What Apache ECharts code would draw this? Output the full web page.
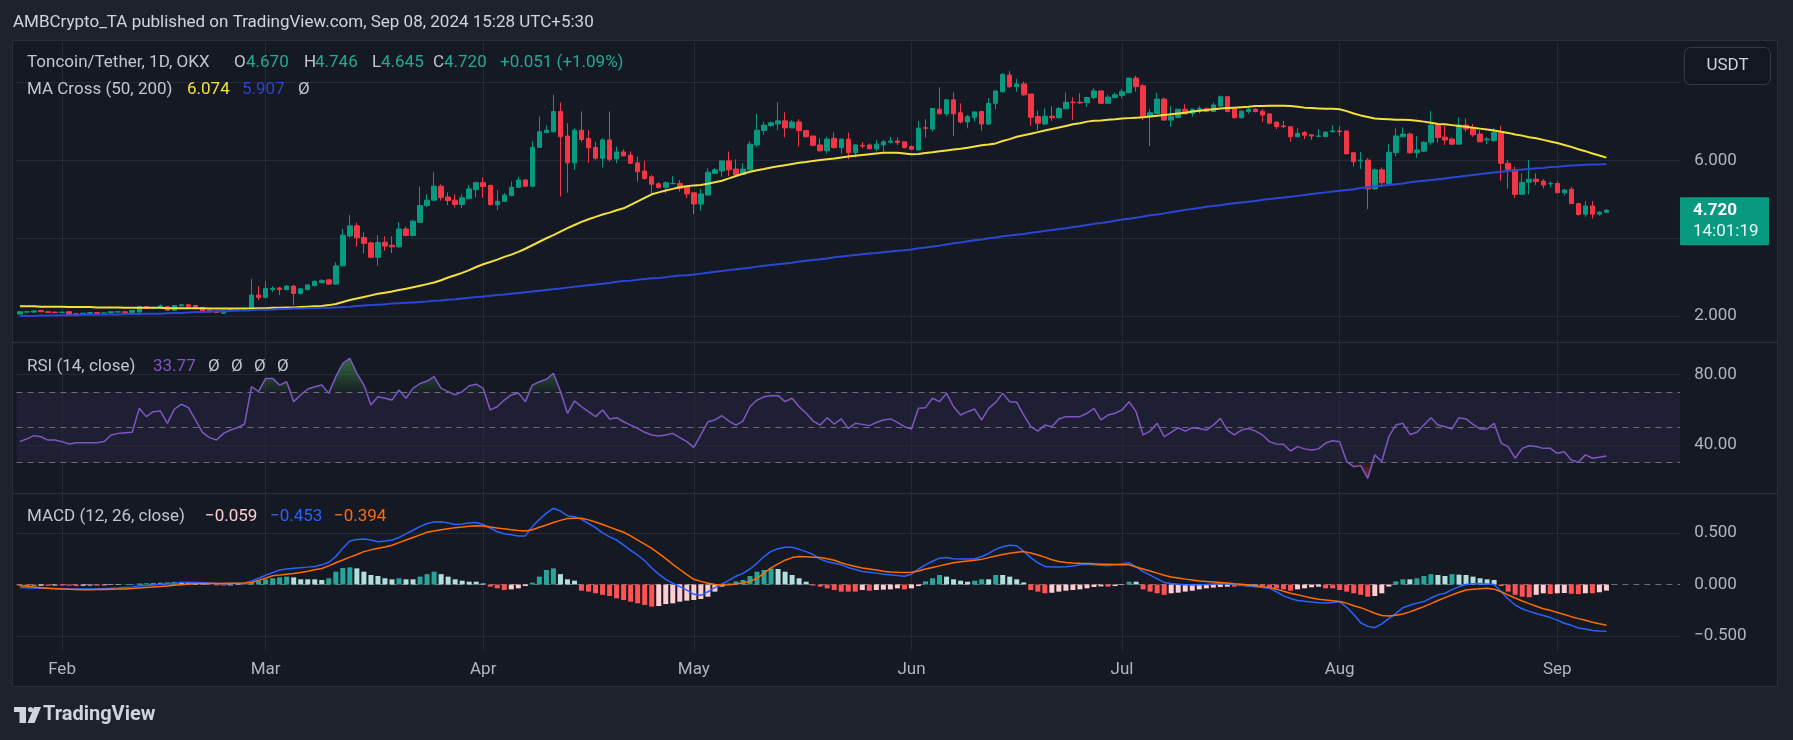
<!DOCTYPE html>
<html>
<head>
<meta charset="utf-8">
<title>Toncoin/Tether 1D OKX</title>
<script src="https://cdn.jsdelivr.net/npm/echarts@6.0.0/dist/echarts.min.js"></script>
<style>
html,body{margin:0;padding:0;background:#1e222d;overflow:hidden}
#chart{width:1793px;height:740px}
</style>
</head>
<body>
<div id="chart"></div>
<script>
// ================= DATA =================
const startDay = [2024, 0, 26];      // first candle: 26 Jan 2024
const slotCount = 237;               // daily slots on the time axis (incl. empty right margin)
const monthTicks = ['Feb','Mar','Apr','May','Jun','Jul','Aug','Sep'];
const priceTicks = [2, 4, 6, 8];
const priceTickLabels = [2, 6];
const rsiTicks = [80, 40];
const rsiLevels = [70, 50, 30];
const macdTicks = [0.5, -0.5];
const countdown = '14:01:19';

const opens = [
2.05,2.10,2.10,2.14,2.11,2.10,2.09,2.11,2.06,2.05,2.07,2.09,2.07,2.08,2.10,2.11,2.09,2.10,2.24,2.20,
2.22,2.24,2.15,2.26,2.29,2.27,2.22,2.15,2.13,2.07,2.15,2.17,2.17,
2.17,2.54,2.48,2.68,2.72,2.68,2.77,2.58,2.68,2.78,2.86,2.93,2.82,3.29,4.06,4.32,4.02,3.88,3.51,3.90,
3.82,3.78,4.24,4.07,4.41,4.84,4.98,5.34,5.06,4.98,4.87,5.02,5.25,5.43,5.36,4.86,4.95,5.10,5.31,
5.50,5.34,6.34,6.72,6.74,7.26,6.63,5.94,6.78,6.57,6.34,6.06,6.53,6.04,6.22,6.14,5.94,5.73,5.58,5.40,
5.31,5.40,5.41,5.33,5.17,4.88,5.11,5.67,5.73,5.99,5.78,5.64,5.76,6.40,6.77,6.90,6.94,7.02,6.84,6.99,
6.77,6.63,6.40,6.25,6.57,6.33,6.55,6.20,6.39,6.40,6.30,6.40,6.47,6.50,6.48,6.36,6.27,6.84,6.81,7.32,
7.20,7.56,7.23,6.99,7.11,7.26,6.94,7.47,7.77,8.20,7.90,7.97,7.71,7.13,
6.94,7.14,7.10,7.33,7.50,7.50,7.49,7.62,7.79,7.47,7.62,7.67,7.74,8.12,7.92,7.13,7.21,7.58,7.04,7.11,
7.32,7.21,7.32,7.34,7.26,7.40,7.64,7.32,7.10,7.26,7.32,7.27,7.20,6.99,6.89,6.87,6.61,6.72,6.66,6.62,
6.61,6.74,6.76,6.76,6.20,5.99,6.01,5.27,5.76,5.41,6.20,6.61,6.68,6.20,6.24,6.47,6.91,
6.60,6.55,6.42,6.91,6.84,6.68,6.53,6.51,6.72,5.93,5.77,5.13,5.44,5.52,5.47,5.40,5.41,5.17,5.26,4.89,
4.62,4.83,4.62,4.670];
const highs = [
2.12,2.13,2.14,2.15,2.13,2.11,2.11,2.12,2.07,2.08,2.10,2.10,2.09,2.12,2.12,2.12,2.15,2.26,2.26,2.24,
2.30,2.25,2.28,2.31,2.30,2.29,2.23,2.16,2.14,2.16,2.18,2.19,2.20,
2.95,2.77,2.90,2.77,2.75,2.80,2.80,2.72,2.82,2.92,2.95,2.95,3.38,4.24,4.60,4.40,4.15,3.92,4.08,4.05,
4.05,4.42,4.30,4.47,5.33,5.13,5.70,5.39,5.18,5.13,5.13,5.37,5.46,5.57,5.38,5.24,5.16,5.46,5.58,
5.52,6.50,7.13,6.90,7.69,7.49,6.96,6.83,7.26,6.78,6.48,6.57,7.26,6.36,6.29,6.23,6.10,5.99,5.63,5.44,
5.47,5.60,5.50,5.34,5.17,5.28,5.80,5.80,5.99,6.23,6.03,5.93,6.50,7.20,7.00,7.00,7.50,7.24,7.04,7.06,
6.78,6.63,6.57,6.61,6.72,6.57,6.72,6.42,6.48,6.44,6.53,6.53,6.61,6.59,6.48,6.39,7.02,7.06,7.34,7.88,
7.57,7.75,7.47,7.17,7.25,7.28,7.60,7.79,8.24,8.30,8.10,8.03,7.71,7.28,
7.34,7.40,7.38,7.75,7.63,7.73,7.64,7.86,7.80,7.69,7.75,7.84,8.13,8.18,7.97,7.32,7.74,7.62,7.40,7.33,
7.45,7.33,7.40,7.36,7.49,7.67,7.66,7.37,7.29,7.38,7.35,7.32,7.21,6.99,7.02,6.87,6.83,6.76,6.67,6.81,
6.75,6.91,6.89,6.77,6.22,6.22,6.06,5.80,5.82,6.42,6.83,6.85,6.72,6.63,6.49,7.27,6.92,
6.89,6.59,7.11,7.08,6.94,6.78,6.61,6.83,6.89,6.01,5.84,5.67,6.01,5.67,5.52,5.46,5.46,5.27,5.32,4.91,
4.96,4.96,4.70,4.746];
const lows = [
2.03,2.08,2.09,2.10,2.08,2.08,2.08,2.03,2.03,2.04,2.06,2.06,2.06,2.07,2.09,2.08,2.08,2.09,2.18,2.19,
2.21,2.14,2.14,2.25,2.23,2.21,2.10,2.10,2.08,2.06,2.14,2.15,2.16,
2.13,2.41,2.45,2.62,2.54,2.66,2.28,2.55,2.66,2.76,2.84,2.80,2.80,3.27,4.02,3.78,3.61,3.49,3.29,3.68,
3.62,3.75,4.05,4.05,4.40,4.80,4.95,4.97,4.85,4.79,4.78,5.00,5.05,5.04,4.85,4.72,4.93,5.08,5.30,
5.32,5.33,6.32,6.70,6.72,5.07,5.17,5.76,6.48,5.94,6.01,5.82,5.97,5.93,6.10,5.93,5.46,5.50,5.16,5.28,
5.16,5.40,5.20,5.03,4.62,4.71,5.11,5.67,5.58,5.60,5.63,5.63,5.76,6.34,6.66,6.87,6.78,6.60,6.83,6.36,
6.60,6.37,6.23,6.18,6.31,6.17,6.03,6.08,6.31,6.29,6.24,6.23,6.44,6.40,6.31,6.27,6.27,6.59,6.74,7.20,
7.14,6.63,6.96,6.83,7.00,6.77,6.91,7.32,7.74,7.86,7.77,7.66,6.89,6.78,
6.91,7.02,7.08,7.32,7.04,7.45,7.38,7.57,7.45,7.46,7.60,7.60,7.73,7.77,7.04,6.37,7.20,7.03,6.87,7.09,
7.19,7.13,7.21,7.24,7.24,7.38,7.24,7.08,7.08,7.20,7.24,6.99,6.93,6.81,6.83,6.48,6.60,6.55,6.53,6.61,
6.60,6.72,6.63,6.17,5.84,5.78,4.75,5.26,5.34,5.40,6.10,6.60,6.17,6.07,6.22,6.40,6.46,
6.40,6.40,6.42,6.74,6.61,6.48,6.42,6.48,5.48,5.27,5.03,5.13,5.13,5.37,5.28,5.31,5.17,5.10,4.88,4.58,
4.55,4.51,4.58,4.645];
const closes = [
2.11,2.11,2.13,2.11,2.09,2.09,2.10,2.04,2.04,2.07,2.09,2.07,2.08,2.11,2.11,2.09,2.14,2.24,2.20,2.22,
2.26,2.15,2.27,2.29,2.24,2.22,2.11,2.11,2.09,2.15,2.17,2.18,2.19,
2.54,2.48,2.71,2.71,2.68,2.77,2.58,2.70,2.80,2.89,2.91,2.82,3.29,4.08,4.32,4.01,3.87,3.51,3.89,3.80,
3.78,4.24,4.07,4.44,4.84,4.98,5.34,5.05,4.97,4.87,5.04,5.27,5.43,5.33,4.86,4.95,5.11,5.31,5.50,
5.34,6.34,6.74,6.78,7.26,6.61,5.94,6.78,6.54,6.33,6.06,6.53,6.03,6.22,6.12,5.93,5.71,5.54,5.39,5.31,
5.43,5.41,5.28,5.14,4.88,5.14,5.70,5.76,5.99,5.76,5.63,5.78,6.42,6.78,6.91,6.97,7.02,6.84,6.99,6.77,
6.61,6.39,6.25,6.55,6.33,6.55,6.20,6.40,6.37,6.30,6.42,6.48,6.50,6.46,6.33,6.29,6.83,6.83,7.34,7.20,
7.56,7.20,6.99,7.13,7.25,6.94,7.47,7.79,8.22,7.90,7.97,7.69,7.11,6.96,
7.14,7.10,7.34,7.50,7.49,7.48,7.62,7.79,7.47,7.63,7.69,7.77,8.12,7.90,7.11,7.23,7.58,7.04,7.14,7.32,
7.20,7.32,7.34,7.26,7.43,7.64,7.26,7.10,7.27,7.32,7.26,7.17,6.96,6.87,6.87,6.61,6.70,6.65,6.63,6.63,
6.73,6.76,6.74,6.17,5.97,6.01,5.27,5.76,5.43,6.21,6.63,6.68,6.20,6.27,6.47,6.91,6.59,
6.53,6.42,6.91,6.81,6.66,6.48,6.55,6.72,5.93,5.77,5.13,5.44,5.52,5.46,5.37,5.41,5.17,5.24,4.89,4.61,
4.83,4.62,4.669,4.720];

const ma50 = [
2.25,2.25,2.25,2.24,2.24,2.24,2.24,2.23,2.23,2.23,2.23,
2.22,2.22,2.22,2.22,2.21,2.21,2.21,2.21,2.21,2.21,
2.20,2.20,2.20,2.20,2.20,2.20,2.19,2.19,2.19,2.19,2.19,2.19,
2.19,2.20,2.20,2.21,2.21,2.22,2.22,2.23,2.24,2.25,2.26,2.28,2.31,2.36,2.41,
2.45,2.49,2.53,2.57,2.60,2.63,2.67,2.70,2.74,2.78,2.82,2.86,
2.92,2.99,3.05,3.11,3.18,3.26,3.33,3.39,3.45,3.52,3.58,3.65,
3.73,3.82,3.91,4.00,4.08,4.17,4.26,4.34,4.42,4.49,
4.55,4.61,4.66,4.72,4.77,4.86,4.95,5.04,5.13,
5.18,5.23,5.27,5.31,5.34,5.36,5.37,5.40,5.44,5.48,
5.54,5.60,5.66,5.71,5.75,5.78,5.82,5.85,5.88,
5.91,5.94,5.96,5.99,6.01,6.03,6.05,6.08,6.10,6.12,
6.14,6.16,6.18,6.20,6.20,6.20,6.18,6.16,6.17,6.19,6.21,6.24,
6.26,6.28,6.30,6.33,6.36,6.39,6.41,6.44,6.50,6.55,6.61,6.65,6.69,6.73,
6.77,6.81,6.85,6.89,6.93,6.96,7.00,7.02,7.03,7.05,7.06,7.08,7.09,7.10,7.11,
7.13,7.15,7.17,7.19,7.21,7.23,7.26,7.28,7.30,7.32,7.34,7.35,7.36,7.37,7.38,7.40,
7.40,7.41,7.41,7.41,7.40,7.38,7.36,7.35,7.34,7.33,7.33,7.32,
7.27,7.21,7.16,7.12,7.08,7.07,7.06,7.05,7.05,7.04,7.02,7.00,6.97,6.94,
6.93,6.91,6.89,6.87,6.84,6.82,6.80,6.77,6.74,6.71,6.67,6.64,6.60,
6.57,6.53,6.49,6.45,6.40,6.35,6.29,6.24,6.18,6.13,6.074];
const ma200 = [
2.00,2.00,2.00,2.01,2.01,2.01,2.02,2.02,2.02,2.03,2.03,2.03,2.04,2.04,2.04,2.05,2.05,2.05,2.06,2.06,2.06,2.07,
2.08,2.08,2.09,2.10,2.10,2.11,2.12,2.12,2.13,2.14,2.14,2.15,2.16,2.16,2.17,2.18,2.18,2.19,2.19,2.20,2.20,2.21,2.21,2.22,
2.23,2.24,2.26,2.27,2.28,2.29,2.30,2.32,2.33,2.34,2.35,2.36,2.37,2.39,2.40,
2.42,2.43,2.45,2.47,2.49,2.50,2.52,2.54,2.55,2.57,2.59,
2.61,2.63,2.65,2.67,2.69,2.71,2.73,2.75,2.77,2.79,2.81,2.83,2.85,2.88,
2.90,2.91,2.93,2.95,2.97,2.98,3.00,3.02,3.04,3.05,3.07,
3.09,3.11,3.14,3.16,3.18,3.20,3.22,3.24,3.27,3.29,3.31,3.33,3.35,
3.37,3.40,3.42,3.44,3.46,3.48,3.51,3.53,3.55,3.57,
3.59,3.61,3.62,3.64,3.66,3.68,3.69,3.71,
3.74,3.76,3.79,3.81,3.84,3.87,3.89,3.92,3.95,3.97,4.00,
4.02,4.05,4.07,4.09,4.11,4.14,4.16,
4.19,4.21,4.24,4.26,4.29,4.31,4.34,
4.37,4.39,4.42,4.45,4.48,4.50,4.53,4.56,
4.59,4.61,4.64,4.67,4.70,4.73,4.75,4.78,4.81,
4.83,4.85,4.88,4.90,4.92,4.94,4.96,4.99,5.01,5.03,
5.05,5.07,5.09,5.11,5.14,5.16,5.18,5.20,5.22,
5.24,5.26,5.29,5.31,5.33,5.35,5.37,
5.39,5.41,5.44,5.46,5.48,5.50,5.52,
5.54,5.56,5.58,5.61,5.63,5.65,5.67,5.69,5.71,
5.73,5.75,5.77,5.78,5.80,
5.81,5.83,5.84,5.86,5.87,
5.88,5.89,5.90,5.90,5.907];

const rsi = [
42,43.5,45.3,44.7,42.8,42.8,41.9,40.6,41.3,41.3,41.3,41.3,42,45.7,46.6,47.0,47.2,
60.8,56.1,58.9,59.3,52.3,60.4,63.1,61.2,54.2,47.2,44.2,42.8,46.6,48.5,49.8,51.9,
73.1,70.3,77.8,77.8,74.0,75.9,64.6,68.4,71.8,73.0,74.0,69.3,78.8,86.3,89.2,
80.7,74.0,62.7,67.4,66.5,65.5,71.2,66.5,72.1,74.9,76.3,78.8,72.1,70.3,68.4,70.3,73.6,74.5,72.1,
59.9,61.7,65.5,68.4,69.5,64.6,74.0,75.9,77.3,80.7,70.3,58.0,65.0,61.7,58.9,56.1,59.9,54.8,55.5,53.2,
51.3,49.4,47.2,45.7,45.1,45.7,46.6,44.2,41.9,38.7,45.7,53.2,54.2,
56.6,53.6,51.3,53.6,61.7,65.5,67.4,68.0,68.0,64.6,66.5,61.7,58.0,53.6,51.3,55.5,51.9,54.8,49.4,52.3,
51.7,51.0,52.8,54.2,54.8,52.8,50.4,49.1,
60.8,61.2,66.5,64.6,69.3,61.7,57.0,58.9,60.4,54.2,60.8,64.2,69.3,64.6,64.2,57.0,50.4,47.9,
51.3,50.4,54.8,56.1,56.1,56.1,58.0,60.8,54.2,57.0,58.0,59.9,64.6,58.9,45.7,47.9,52.3,44.7,47.2,
49.8,47.9,49.8,49.4,48.5,51.3,55.1,48.5,45.7,48.5,49.4,47.9,45.7,41.9,40.6,40.4,36.6,39.1,37.8,37.2,
37.8,41.1,42.4,41.9,
30.6,27.7,28.3,21.1,34.4,30.6,44.7,51.3,52.3,46.0,47.2,51.3,55.5,51.3,50.4,49.1,55.5,54.8,51.7,49.1,
49.1,52.3,
41.1,39.1,32.5,38.1,39.6,39.1,38.1,38.1,35.3,36.2,31.5,30.2,34.4,32.5,33.0,33.77];

const macd = [
-0.030,-0.032,-0.034,-0.036,-0.037,-0.039,-0.041,-0.043,-0.043,-0.043,
-0.043,-0.042,-0.040,-0.037,-0.033,-0.028,-0.023,-0.015,-0.010,-0.004,
0.000,0.007,0.013,0.020,0.021,0.020,0.018,0.014,0.010,0.009,
0.009,0.010,0.012,0.035,0.060,0.090,0.115,0.140,0.150,0.156,
0.162,0.168,0.175,0.190,0.215,0.270,0.350,0.420,0.435,0.440,
0.430,0.414,0.420,0.430,0.455,0.490,0.525,0.560,0.590,0.605,
0.607,0.595,0.580,0.585,0.595,0.600,0.580,0.545,0.510,0.490,
0.480,0.470,0.470,0.560,0.630,0.690,0.737,0.710,0.666,0.656,
0.630,0.590,0.550,0.500,0.460,0.430,0.380,0.330,0.285,0.230,
0.160,0.100,0.050,0.010,-0.020,-0.055,-0.095,-0.105,-0.070,-0.030,
0.005,0.040,0.080,0.108,0.150,0.205,0.270,0.320,0.345,0.360,
0.360,0.340,0.318,0.290,0.245,0.220,0.205,0.190,0.165,0.145,
0.125,0.118,0.110,0.100,0.095,0.088,0.080,0.100,0.150,0.190,
0.225,0.255,0.260,0.250,0.247,0.247,0.247,0.270,0.300,0.340,
0.365,0.380,0.375,0.320,0.260,0.210,0.175,0.170,0.170,0.172,
0.180,0.190,0.195,0.190,0.185,0.182,0.190,0.200,0.211,0.170,
0.124,0.090,0.055,0.020,0.010,0.003,-0.002,-0.005,-0.003,0.000,
0.005,0.010,0.005,0.000,-0.008,-0.015,-0.022,-0.030,-0.037,-0.070,
-0.110,-0.135,-0.155,-0.163,-0.170,-0.176,-0.180,-0.175,-0.166,-0.220,
-0.290,-0.370,-0.405,-0.418,-0.380,-0.330,-0.280,-0.225,-0.200,-0.180,
-0.165,-0.130,-0.100,-0.085,-0.050,-0.020,0.000,0.008,0.010,0.005,
0.000,-0.070,-0.140,-0.198,-0.235,-0.260,-0.280,-0.300,-0.320,-0.345,
-0.375,-0.395,-0.420,-0.430,-0.445,-0.450,-0.453];
const signal = [
-0.011,-0.017,-0.024,-0.031,-0.037,-0.040,-0.043,-0.046,-0.048,-0.050,
-0.050,-0.049,-0.048,-0.046,-0.044,-0.043,-0.038,-0.033,-0.028,-0.024,
-0.020,-0.014,-0.008,-0.002,0.004,0.008,0.010,0.010,0.010,0.010,
0.011,0.012,0.015,0.020,0.040,0.060,0.085,0.092,0.100,0.106,
0.115,0.128,0.142,0.155,0.180,0.210,0.237,0.265,0.290,0.318,
0.335,0.350,0.362,0.380,0.405,0.430,0.455,0.480,0.505,0.517,
0.530,0.540,0.550,0.556,0.563,0.569,0.565,0.555,0.547,0.538,
0.530,0.522,0.517,0.530,0.553,0.575,0.600,0.620,0.638,0.640,
0.640,0.625,0.605,0.580,0.555,0.530,0.505,0.470,0.430,0.390,
0.350,0.300,0.250,0.195,0.145,0.095,0.050,0.030,0.012,0.000,
-0.004,-0.002,0.005,0.015,0.030,0.060,0.110,0.160,0.200,0.235,
0.260,0.270,0.268,0.264,0.260,0.250,0.235,0.210,0.190,0.175,
0.160,0.150,0.140,0.128,0.120,0.118,0.117,0.118,0.130,0.150,
0.165,0.180,0.195,0.210,0.220,0.228,0.235,0.243,0.260,0.275,
0.290,0.302,0.312,0.318,0.305,0.285,0.265,0.240,0.222,0.212,
0.208,0.205,0.204,0.200,0.197,0.195,0.193,0.191,0.190,0.170,
0.150,0.130,0.110,0.090,0.072,0.062,0.052,0.043,0.034,0.028,
0.024,0.020,0.015,0.008,0.002,-0.005,-0.012,-0.022,-0.030,-0.045,
-0.065,-0.085,-0.100,-0.115,-0.130,-0.142,-0.150,-0.158,-0.165,-0.180,
-0.205,-0.224,-0.250,-0.278,-0.300,-0.305,-0.298,-0.285,-0.265,-0.240,
-0.214,-0.185,-0.155,-0.127,-0.100,-0.075,-0.053,-0.045,-0.040,-0.037,
-0.045,-0.070,-0.100,-0.130,-0.160,-0.185,-0.210,-0.235,-0.250,-0.270,
-0.290,-0.311,-0.330,-0.345,-0.365,-0.380,-0.394];
const hist = [
-0.012,-0.015,-0.015,-0.012,-0.012,-0.010,-0.010,-0.012,-0.015,-0.012,-0.010,-0.010,-0.008,-0.005,-0.003,
0.003,0.005,0.010,0.012,0.015,0.018,0.020,0.025,0.025,0.020,
0.012,0.005,-0.003,-0.008,-0.010,-0.008,-0.005,-0.002,
0.024,0.037,0.050,0.060,0.069,0.076,0.069,0.050,0.050,0.050,0.044,0.060,0.124,0.160,0.166,0.156,
0.124,0.092,0.082,0.060,0.050,0.060,0.050,0.050,0.076,0.100,0.124,0.100,0.076,0.050,0.037,0.027,
0.027,0.010,-0.021,-0.037,-0.053,-0.047,-0.037,-0.015,0.018,0.076,0.140,0.156,0.100,0.050,0.037,
-0.060,-0.069,-0.085,-0.100,-0.111,-0.134,-0.150,-0.166,-0.182,-0.198,-0.214,-0.208,-0.189,-0.182,
-0.166,-0.156,-0.150,-0.140,-0.118,-0.069,-0.020,
0.010,0.030,0.044,0.082,0.124,0.140,0.156,0.150,0.124,0.092,0.060,0.027,-0.010,-0.021,-0.037,-0.053,
-0.069,-0.069,-0.069,-0.053,-0.060,-0.053,-0.050,-0.047,-0.037,-0.047,-0.037,-0.015,0.030,0.060,
0.092,0.076,0.050,0.037,0.027,0.037,0.050,0.050,0.092,0.092,0.076,0.050,0.020,
-0.053,-0.069,-0.085,-0.080,-0.069,-0.060,-0.053,-0.047,-0.037,-0.024,-0.018,-0.021,-0.015,-0.005,
0.027,0.027,-0.047,-0.069,-0.085,-0.100,-0.085,-0.079,-0.069,-0.060,-0.047,-0.037,-0.030,-0.024,
-0.021,-0.021,-0.015,-0.021,-0.015,-0.021,-0.027,-0.037,-0.047,-0.060,-0.047,-0.037,-0.027,-0.021,
-0.037,-0.037,-0.053,-0.069,-0.085,-0.100,-0.118,-0.111,-0.085,-0.020,
0.030,0.050,0.050,0.060,0.082,0.100,0.092,0.082,0.100,0.095,0.092,0.076,0.060,0.050,0.044,
-0.015,-0.069,-0.100,-0.118,-0.124,-0.100,-0.085,-0.092,-0.085,-0.082,-0.090,-0.093,-0.085,-0.085,
-0.075,-0.059];

// ================= BUILD =================
const FONT = 'Roboto, "Noto Sans", "DejaVu Sans", sans-serif';
const N = closes.length;
const dates = [];
for (let k = 0; k < slotCount; k++) {
  const d = new Date(Date.UTC(startDay[0], startDay[1], startDay[2] + k));
  dates.push(d.toISOString().slice(0, 10));
}
const monthStarts = dates.filter(d => d.endsWith('-01'));
const monthName = d => monthTicks[parseInt(d.slice(5, 7), 10) - 2];
const fmt = (v, n) => v.toFixed(n).replace('-', '\u2212');

const GL = 16.4, BAND = 7.02;
const GR = 1793 - (GL + slotCount * BAND);
const AXC = '#b2b5be', GRID = '#252935';

const candleData = opens.map((o, i) => [o, closes[i], lows[i], highs[i]]);
const histItems = hist.map((h, i) => {
  const p = i > 0 ? hist[i - 1] : h;
  let c;
  if (h >= 0) c = p < h ? '#26a69a' : '#b2dfdb';
  else c = p < h ? '#ffcdd2' : '#ff5252';
  return { value: h, itemStyle: { color: c } };
});
const nulls = new Array(N).fill(null);
const vLines = monthStarts.map(d => ({ xAxis: d }));

function hLine(v, label, dashed) {
  return {
    yAxis: v,
    lineStyle: dashed ? { color: '#6a6d78', type: [6, 5], width: 1 } : { color: GRID, type: 'solid', width: 1 },
    label: label ? { show: true, formatter: label, position: 'end', distance: 14, color: AXC, fontSize: 17, fontFamily: FONT } : { show: false }
  };
}
function gridMark(items) {
  return {
    silent: true, symbol: 'none', animation: false, z: 1,
    label: { show: false },
    lineStyle: { color: GRID, type: 'solid', width: 1 },
    emphasis: { disabled: true },
    data: items
  };
}

const xAx = (gi, showLabel) => ({
  type: 'category', gridIndex: gi, data: dates, boundaryGap: true,
  axisLine: { show: false }, axisTick: { show: false }, splitLine: { show: false },
  axisLabel: showLabel ? {
    show: true, interval: (idx, val) => val.endsWith('-01'),
    formatter: v => monthName(v), color: AXC, fontSize: 17, fontFamily: FONT, margin: 11
  } : { show: false }
});
const yAx = (gi, min, max) => ({
  type: 'value', gridIndex: gi, min, max, show: false, scale: true,
  splitLine: { show: false }, axisLabel: { show: false }
});

const option = {
  backgroundColor: '#1e222d',
  animation: false,
  textStyle: { fontFamily: FONT },
  grid: [
    { left: GL, right: GR, top: 42, height: 300, outerBoundsMode: 'none', containLabel: false },
    { left: GL, right: GR, top: 342, height: 151, outerBoundsMode: 'none', containLabel: false },
    { left: GL, right: GR, top: 493, height: 157, outerBoundsMode: 'none', containLabel: false }
  ],
  xAxis: [xAx(0, false), xAx(1, false), xAx(2, true)],
  yAxis: [yAx(0, 1.3312, 9.0482), yAx(1, 12.77, 98.44), yAx(2, -0.6335, 0.8849)],
  series: [
    { // price grid lines
      type: 'line', xAxisIndex: 0, yAxisIndex: 0, data: nulls, silent: true, z: 1,
      markLine: gridMark(vLines.concat(priceTicks.map(v => hLine(v, priceTickLabels.includes(v) ? fmt(v, 3) : null, false))))
    },
    {
      type: 'candlestick', name: 'TONUSDT', xAxisIndex: 0, yAxisIndex: 0, data: candleData,
      barWidth: 5, z: 3,
      itemStyle: { color: '#089981', color0: '#f23645', borderColor: '#089981', borderColor0: '#f23645', borderWidth: 1 }
    },
    { type: 'line', name: 'MA50', xAxisIndex: 0, yAxisIndex: 0, data: ma50, showSymbol: false, smooth: false, z: 4,
      lineStyle: { color: '#f3e03b', width: 2 } },
    { type: 'line', name: 'MA200', xAxisIndex: 0, yAxisIndex: 0, data: ma200, showSymbol: false, z: 4,
      lineStyle: { color: '#2a46d2', width: 2 } },

    { // RSI grid + band
      type: 'line', xAxisIndex: 1, yAxisIndex: 1, data: nulls, silent: true, z: 1,
      markArea: { silent: true, itemStyle: { color: 'rgba(126,87,194,0.10)' }, data: [[{ yAxis: rsiLevels[2] }, { yAxis: rsiLevels[0] }]] },
      markLine: gridMark(vLines.concat(rsiTicks.map(v => hLine(v, fmt(v, 2), false)), rsiLevels.map(v => hLine(v, null, true))))
    },
    { type: 'line', xAxisIndex: 1, yAxisIndex: 1, data: rsi.map(v => v > 70 ? v : 70), showSymbol: false, silent: true, z: 2,
      lineStyle: { width: 0 },
      areaStyle: { origin: 70, color: new echarts.graphic.LinearGradient(0, 0, 0, 1, [{ offset: 0, color: 'rgba(76,175,80,0.75)' }, { offset: 1, color: 'rgba(76,175,80,0.08)' }]) } },
    { type: 'line', xAxisIndex: 1, yAxisIndex: 1, data: rsi.map(v => v < 30 ? v : 30), showSymbol: false, silent: true, z: 2,
      lineStyle: { width: 0 },
      areaStyle: { origin: 30, color: new echarts.graphic.LinearGradient(0, 0, 0, 1, [{ offset: 0, color: 'rgba(242,54,69,0.08)' }, { offset: 1, color: 'rgba(242,54,69,0.75)' }]) } },
    { type: 'line', name: 'RSI', xAxisIndex: 1, yAxisIndex: 1, data: rsi, showSymbol: false, z: 3,
      lineStyle: { color: '#7e57c2', width: 1.5 } },

    { // MACD grid
      type: 'line', xAxisIndex: 2, yAxisIndex: 2, data: nulls, silent: true, z: 1,
      markLine: gridMark(vLines.concat(macdTicks.map(v => hLine(v, fmt(v, 3), false)), [hLine(0, fmt(0, 3), true)]))
    },
    { type: 'bar', name: 'Histogram', xAxisIndex: 2, yAxisIndex: 2, data: histItems, barWidth: 5, z: 2 },
    { type: 'line', name: 'MACD', xAxisIndex: 2, yAxisIndex: 2, data: macd, showSymbol: false, z: 3,
      lineStyle: { color: '#2962ff', width: 1.5 } },
    { type: 'line', name: 'Signal', xAxisIndex: 2, yAxisIndex: 2, data: signal, showSymbol: false, z: 3,
      lineStyle: { color: '#ff6d00', width: 1.5 } }
  ]
};

const chart = echarts.init(document.getElementById('chart'), null, { renderer: 'canvas', width: 1793, height: 740 });
chart.setOption(option);

// ---------- text overlays ----------
const last = N - 1;
const chg = closes[last] - closes[last - 1];
const pct = chg / closes[last - 1] * 100;
const UP = '#22ab94';
const T = (x, y, text, fill, size, weight, align) => ({
  type: 'text', x, y, z: 50, silent: true,
  style: { text, fill, font: (weight || 'normal') + ' ' + (size || 17) + 'px ' + FONT, align: align || 'left', verticalAlign: 'middle' }
});
const LBL = '#c3c6ce';
const graphics = [
  { type: 'rect', z: -5, silent: true, shape: { x: 12.5, y: 40.5, width: 1765, height: 646 }, style: { fill: '#151924', stroke: '#2a2e39', lineWidth: 1 } },
  { type: 'line', z: 40, silent: true, shape: { x1: 13, y1: 342.5, x2: 1777, y2: 342.5 }, style: { stroke: '#2a2e39', lineWidth: 1.5 } },
  { type: 'line', z: 40, silent: true, shape: { x1: 13, y1: 493.5, x2: 1777, y2: 493.5 }, style: { stroke: '#2a2e39', lineWidth: 1.5 } },
  T(13, 23, 'AMBCrypto_TA published on TradingView.com, Sep 08, 2024 15:28 UTC+5:30', '#d1d4dc', 17),
  T(27, 63, 'Toncoin/Tether, 1D, OKX', LBL, 17),
  T(234, 63, 'O', LBL, 17), T(246, 63, opens[last].toFixed(3), UP, 17),
  T(304, 63, 'H', LBL, 17), T(315, 63, highs[last].toFixed(3), UP, 17),
  T(372, 63, 'L', LBL, 17), T(381, 63, lows[last].toFixed(3), UP, 17),
  T(433, 63, 'C', LBL, 17), T(444, 63, closes[last].toFixed(3), UP, 17),
  T(500, 63, '+' + chg.toFixed(3) + ' (+' + pct.toFixed(2) + '%)', UP, 17),
  T(27, 90, 'MA Cross (50, 200)', LBL, 17),
  T(187, 90, ma50[last].toFixed(3), '#f7e23b', 17),
  T(242, 90, ma200[last].toFixed(3), '#2a46d2', 17),
  T(298, 90, '\u00D8', LBL, 17),
  T(27, 367, 'RSI (14, close)', LBL, 17),
  T(153, 367, rsi[last].toFixed(2), '#7e57c2', 17),
  T(208, 367, '\u00D8', LBL, 17), T(231, 367, '\u00D8', LBL, 17), T(254, 367, '\u00D8', LBL, 17), T(277, 367, '\u00D8', LBL, 17),
  T(27, 517, 'MACD (12, 26, close)', LBL, 17),
  T(205, 517, fmt(hist[last], 3), '#ffcdd2', 17),
  T(270, 517, fmt(macd[last], 3), '#2962ff', 17),
  T(334, 517, fmt(signal[last], 3), '#ff6d00', 17),
  // USDT button
  { type: 'rect', z: 45, silent: true, shape: { x: 1684.5, y: 47.5, width: 86, height: 37, r: 6 }, style: { fill: '#131722', stroke: '#363a45', lineWidth: 1 } },
  T(1727.5, 66, 'USDT', '#d1d4dc', 17, 'normal', 'center'),
  // TradingView logo
  { type: 'rect', z: 50, silent: true, shape: { x: 14, y: 707, width: 12, height: 5 }, style: { fill: '#d1d4dc' } },
  { type: 'rect', z: 50, silent: true, shape: { x: 19.5, y: 707, width: 6.5, height: 16 }, style: { fill: '#d1d4dc' } },
  { type: 'circle', z: 50, silent: true, shape: { cx: 30.5, cy: 709.5, r: 2.6 }, style: { fill: '#d1d4dc' } },
  { type: 'polygon', z: 50, silent: true, shape: { points: [[34, 707], [41, 707], [34.5, 723], [27.5, 723]] }, style: { fill: '#d1d4dc' } },
  T(43, 715, 'TradingView', '#d1d4dc', 20, 'bold')
];

// last price tag positioned through the price axis scale
const py = chart.convertToPixel({ yAxisIndex: 0 }, closes[last]);
graphics.push(
  { type: 'rect', z: 45, silent: true, shape: { x: 1680, y: py - 13, width: 89, height: 48, r: 1 }, style: { fill: '#089981' } },
  T(1693, py, closes[last].toFixed(3), '#ffffff', 17, 'bold'),
  T(1693, py + 21.5, countdown, '#e6f4f1', 17)
);
chart.setOption({ graphic: { elements: graphics } });
</script>
</body>
</html>
